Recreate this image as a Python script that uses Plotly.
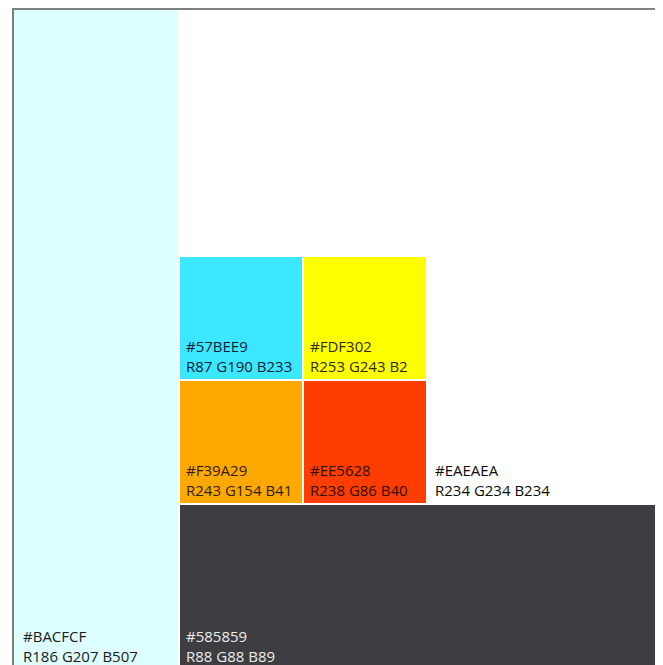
import plotly.graph_objects as go

# ---- data ----
hex_codes = ["#BACFCF", "#57BEE9", "#FDF302", "#F39A29", "#EE5628", "#EAEAEA", "#585859"]
rgb_labels = ["R186 G207 B507", "R87 G190 B233", "R253 G243 B2", "R243 G154 B41",
              "R238 G86 B40", "R234 G234 B234", "R88 G88 B89"]
fill_colors = ["#DEFFFF", "#3CE8FF", "#FFFF00", "#FFA800", "#FF3D00", "#FFFFFF", "#3E3D41"]
text_colors = ["#1a1a1a", "#10203a", "#2e2a08", "#2e2006", "#2e1006", "#0a0a0a", "#EDEDED"]

# grid placement (column index, row index, spans)
cell_col = [0, 1, 2, 1, 2, 3, 1]
cell_row = [0, 2, 2, 3, 3, 3, 4]
cell_colspan = [1, 1, 1, 1, 1, 1, 4]
cell_rowspan = [5, 1, 1, 1, 1, 1, 1]

# ---- layout grid (px within plot area) ----
col_edges = [0, 166, 290, 414, 538, 651]
row_edges = [0, 123, 247, 371, 495, 661]
GAP = 2
ANCHOR_UP = 8  # keep annotation anchors inside the visible range
label_inset = [8, 5, 5, 5, 5, 6, 5]  # style: horizontal text inset per swatch

x0s, x1s, y0s, y1s = [], [], [], []
for c, r, cs, rs in zip(cell_col, cell_row, cell_colspan, cell_rowspan):
    x0s.append(col_edges[c]); x1s.append(col_edges[c + cs] - GAP)
    y0s.append(row_edges[r]); y1s.append(row_edges[r + rs] - GAP)

fig = go.Figure()
fig.add_trace(go.Bar(
    x=[(a + b) / 2 for a, b in zip(x0s, x1s)],
    width=[b - a for a, b in zip(x0s, x1s)],
    base=y0s,
    y=[b - a for a, b in zip(y0s, y1s)],
    marker=dict(color=fill_colors, line=dict(width=0)),
    hoverinfo="skip",
    showlegend=False,
))

FONT = "Open Sans"
for i in range(len(hex_codes)):
    fig.add_annotation(
        x=x0s[i], y=y1s[i] - ANCHOR_UP, xref="x", yref="y",
        xanchor="left", yanchor="bottom",
        xshift=label_inset[i], yshift=2 - ANCHOR_UP,
        borderpad=0,
        text=f"{hex_codes[i]}<br>{rgb_labels[i]}", showarrow=False, align="left",
        font=dict(family=FONT, size=15, color=text_colors[i]),
    )

fig.update_layout(
    width=655, height=657,
    margin=dict(l=6, r=0, t=2, b=0),
    paper_bgcolor="white", plot_bgcolor="white",
    bargap=0, barmode="overlay",
    xaxis=dict(range=[0, 649], side="top", showline=True, linecolor="#808080", linewidth=2,
               showgrid=False, zeroline=False, showticklabels=False, ticks=""),
    yaxis=dict(range=[655, 0], showline=True, linecolor="#808080", linewidth=2,
               showgrid=False, zeroline=False, showticklabels=False, ticks=""),
)

fig.write_html("out.html")
